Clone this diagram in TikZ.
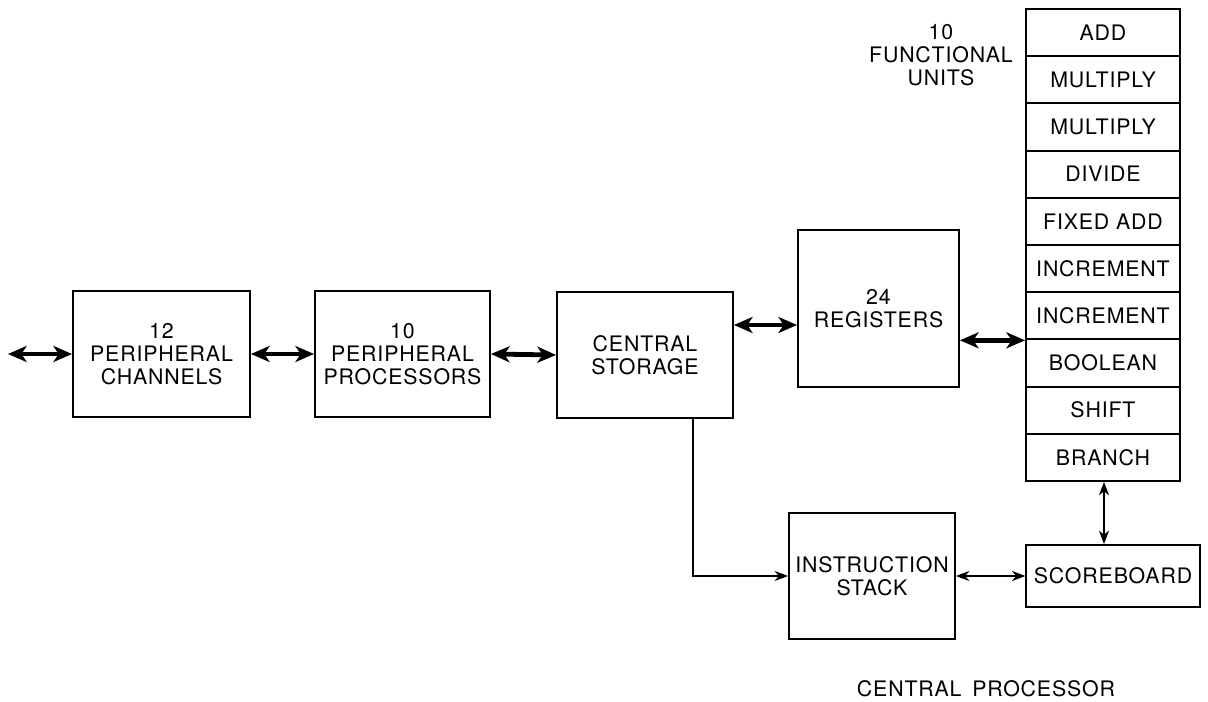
\documentclass[tikz,border=0pt]{standalone}
\usepackage{fontspec}
\setmainfont{TeX Gyre Heros}[LetterSpace=4]
\usetikzlibrary{arrows.meta}
\begin{document}
\begin{tikzpicture}[x=0.75pt,y=-0.75pt,
  txt/.style={font=\fontsize{16}{17.5}\selectfont},
  blk/.style={draw,line width=1.4pt,inner sep=0pt,align=center,txt},
  fu/.style={blk,minimum width=115.5pt,minimum height=35.4pt},
  thick arrow/.style={line width=3.6pt,{Stealth[length=14pt,width=12pt,inset=4pt]}-{Stealth[length=14pt,width=12pt,inset=4pt]}},
  thin arrow/.style={line width=1.3pt,-{Stealth[length=10pt,width=7.5pt,inset=3pt]}},
  thin both/.style={line width=1.3pt,{Stealth[length=10pt,width=7.5pt,inset=3pt]}-{Stealth[length=10pt,width=7.5pt,inset=3pt]}},
  lbl/.style={align=center,txt}]
\useasboundingbox (0,0) rectangle (1208,702);

\node[blk,minimum width=132.75pt,minimum height=94.5pt] (ch) at (161.5,354) {12\\PERIPHERAL\\CHANNELS};
\node[blk,minimum width=131.25pt,minimum height=94.5pt] (pp) at (402.5,354) {10\\PERIPHERAL\\PROCESSORS};
\node[blk,minimum width=132pt,minimum height=94.5pt] (cs) at (645,355) {CENTRAL\\STORAGE};
\node[blk,minimum width=120.75pt,minimum height=117.75pt] (reg) at (878.5,308.5) {24\\REGISTERS};

\foreach \i/\t in {0/ADD,1/MULTIPLY,2/MULTIPLY,3/DIVIDE,4/FIXED ADD,5/INCREMENT,6/INCREMENT,7/BOOLEAN,8/SHIFT,9/BRANCH}
  \node[fu] (fu\i) at (1103,{9+47.2*(\i+0.5)}) {\t};

\node[blk,minimum width=124.5pt,minimum height=94.5pt] (is) at (872,576) {INSTRUCTION\\STACK};
\node[blk,minimum width=130pt,minimum height=46.5pt] (sb) at (1113,576) {SCOREBOARD};

\node[lbl] (fulbl) at (941,55) {10\\FUNCTIONAL\\UNITS};
\node[lbl] (cplbl) at (986,689) {CENTRAL\enspace PROCESSOR};

\coordinate (ext) at (8,354);
\draw[thick arrow] (ext) -- (ch.west);
\draw[thick arrow] (ch.east) -- (pp.west);
\draw[thick arrow] (pp.east) -- (cs.west);
\draw[thick arrow] (cs.east |- 0,325) -- (reg.west |- 0,325);
\draw[thick arrow] (reg.east |- fu6.south west) -- (fu6.south west);

\coordinate (turn) at (693,576);
\draw[thin arrow] (cs.south -| turn) -- (turn) -- (is.west);
\draw[thin both] (is.east) -- (sb.west);
\draw[thin both] (fu9.south -| 1104,0) -- (sb.north -| 1104,0);
\end{tikzpicture}
\end{document}
